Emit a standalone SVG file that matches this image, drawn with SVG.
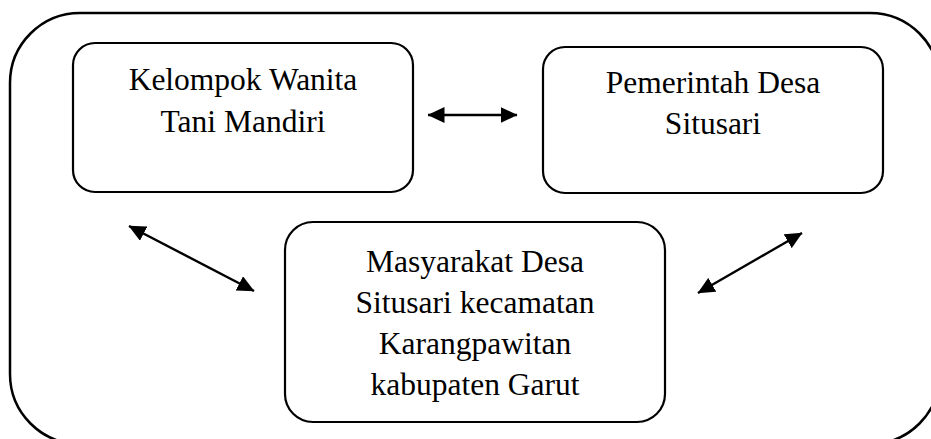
<svg xmlns="http://www.w3.org/2000/svg" width="931" height="439" viewBox="0 0 931 439">
<style>
.box{fill:#fff;stroke:#000;stroke-width:2.2}
.outer{fill:#fff;stroke:#000;stroke-width:2.5}
.lbl{font-family:"Liberation Serif","Times New Roman",serif;font-size:31.5px;fill:#000;text-anchor:middle}
.con{stroke:#000;stroke-width:2.4;fill:none;marker-start:url(#ah);marker-end:url(#ah)}
</style>
<defs>
<marker id="ah" markerUnits="userSpaceOnUse" viewBox="0 0 17 16" markerWidth="17" markerHeight="16" refX="16.5" refY="8" orient="auto-start-reverse">
<path d="M0,0 L17,8 L0,16 z" fill="#000"/>
</marker>
</defs>
<rect width="931" height="439" fill="#fff"/>
<g id="frame"><rect class="outer" x="10" y="13" width="930" height="431" rx="70" ry="70"/></g>
<g id="node-kwt">
<rect class="box" x="73" y="43" width="340" height="149" rx="22" ry="22"/>
<text class="lbl" x="243" y="90">Kelompok Wanita</text>
<text class="lbl" x="243" y="132">Tani Mandiri</text>
</g>
<g id="node-pemdes">
<rect class="box" x="543" y="47" width="340" height="146" rx="22" ry="22"/>
<text class="lbl" x="713" y="93">Pemerintah Desa</text>
<text class="lbl" x="713" y="134">Situsari</text>
</g>
<g id="node-masyarakat">
<rect class="box" x="285" y="222" width="380" height="200" rx="28" ry="28"/>
<text class="lbl" x="475" y="272">Masyarakat Desa</text>
<text class="lbl" x="475" y="313">Situsari kecamatan</text>
<text class="lbl" x="475" y="354">Karangpawitan</text>
<text class="lbl" x="475" y="395">kabupaten Garut</text>
</g>
<g id="connectors">
<line class="con" x1="428" y1="115" x2="517" y2="115"/>
<line class="con" x1="129" y1="226" x2="254" y2="291"/>
<line class="con" x1="802" y1="233" x2="698" y2="293"/>
</g>
</svg>
